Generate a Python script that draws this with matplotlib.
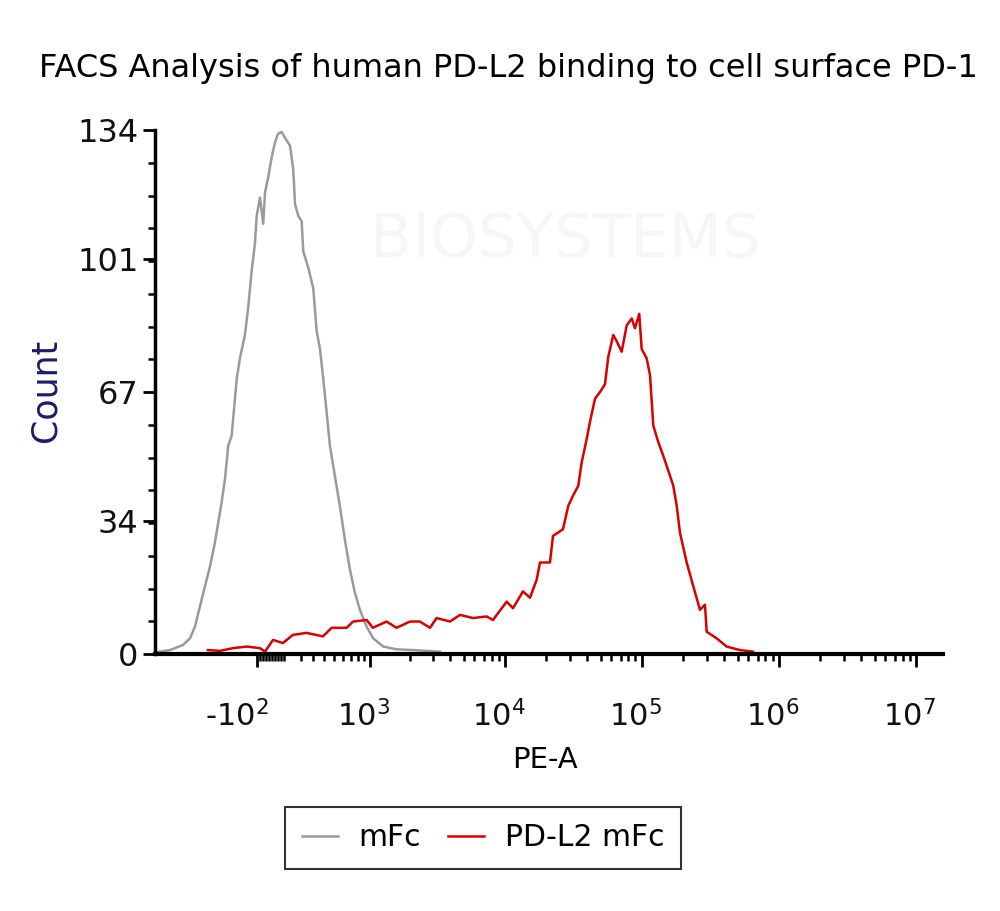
import numpy as np
import matplotlib.pyplot as plt
import matplotlib.transforms as mtransforms
from matplotlib.ticker import NullFormatter

plt.rcParams['font.family'] = ['DejaVu Sans']
plt.rcParams['mathtext.default'] = 'regular'

# 直方图数据：PE-A 荧光值及对应细胞计数
mfc_pe = [-1353, -1074, -848, -743, -675, -611, -552, -496, -445, -412, -380,
          -350, -321, -292, -251, -226, -188, -163, -139, -116, -104, -81, -59,
          -47, -25, -2, 20, 40, 65, 88, 123, 146, 159, 183, 208, 220, 260, 300,
          330, 359, 389, 421, 454, 506, 562, 622, 687, 756, 831, 940, 1060, 1268,
          1596, 2120, 3356]
mfc_count = [0.5, 1.0, 2.3, 4, 7, 12.2, 17.3, 22.4, 28.5, 33.7, 38.8,
             44.7, 53.3, 55.9, 70.4, 75.6, 81.6, 89, 98, 105, 112, 116.7, 110,
             118, 122, 127, 130.8, 133, 133.5, 132, 130, 124, 115, 112, 110.7, 103, 98.7, 93.6,
             82.5, 78, 70.4, 62, 53.3, 45.6, 37.9, 29.3, 21.6, 15.7, 11.3, 7, 4, 1.9,
             1.2, 1, 0.6]

pdl2_pe = [-518, -396, -281, -175, -81, -47, 7, 74, 144, 247, 386, 472, 644, 730,
           942, 1052, 1344, 1596, 2016, 2388, 2832, 3172, 3976, 4704, 5856, 7376,
           8200, 10330, 11480, 13580, 15280, 17100, 18080, 21380, 22500, 26600,
           29100, 31500, 34400, 36440, 39640, 41900, 45580, 49600, 53900, 56960,
           61960, 65600, 71340, 77600, 84400, 89240, 95900, 99840, 108600, 114900,
           121400, 132000, 143500, 160700, 169900, 179900, 190100, 212800, 237800,
           266000, 289200, 297800, 352200, 416600, 521400, 648600]
pdl2_count = [1, 0.8, 1.5, 1.9, 1.5, 0.6, 3.6, 2.8, 4.9, 5.4, 4.5, 6.7, 6.7, 8.3,
              8.7, 6.7, 8.3, 6.7, 8.3, 8.3, 6.7, 9.2, 8.3, 10, 9.2, 9.6,
              8.7, 13.4, 11.7, 16, 14.4, 19, 23.4, 23.4, 30.2, 31.9,
              37.9, 40.5, 43, 49, 55, 59.4, 65.3, 67, 69, 76,
              81.6, 80, 77.3, 84, 85.8, 83.3, 87, 78, 75.6, 71.3,
              58.4, 54.2, 50.7, 45.6, 43, 37.9, 31, 23.4, 17.3,
              11.3, 12.6, 5.7, 4, 1.9, 1, 0.6]

x_ticks = [-100, 1e3, 1e4, 1e5, 1e6, 1e7]
x_ticklabels = ['-$10^{2}$', '$10^{3}$', '$10^{4}$', '$10^{5}$', '$10^{6}$', '$10^{7}$']
y_ticks = [0, 34, 67, 101, 134]

title = 'FACS Analysis of human PD-L2 binding to cell surface PD-1'

fig = plt.figure(figsize=(10, 9.11), dpi=100)
ax = fig.add_axes([0.155, 1 - 654 / 911, 0.788, 524 / 911])

# 水印
fig.text(0.565, 1 - 240 / 911, 'BIOSYSTEMS', fontsize=44, color='#f6f6f6',
         ha='center', va='center', zorder=0)

ax.plot(mfc_pe, mfc_count, color='#9a9a9a', lw=1.8, label='mFc')
ax.plot(pdl2_pe, pdl2_count, color='#d80000', lw=1.8, label='PD-L2 mFc')

# 双指数（asinh）横轴
ax.set_xscale('asinh', linear_width=400)
ax.set_xlim(-1400, 1.58e7)
ax.set_ylim(0, 134)
ax.patch.set_alpha(0)

minor_x = [-80, -60, -40, -20, 0, 20, 40, 60, 80] + \
          [m * 10 ** d for d in range(2, 7) for m in range(2, 10)]
ax.set_xticks(x_ticks, labels=x_ticklabels)
ax.set_xticks(minor_x, minor=True)
ax.xaxis.set_minor_formatter(NullFormatter())
ax.set_yticks(y_ticks)
ax.set_yticks(np.linspace(0, 134, 17), minor=True)

ax.spines['top'].set_visible(False)
ax.spines['right'].set_visible(False)
ax.spines['left'].set_linewidth(2.5)
ax.spines['bottom'].set_linewidth(3)
ax.tick_params(axis='both', which='major', length=9, width=2, direction='out',
               labelcolor='#111111')
ax.tick_params(axis='both', which='minor', length=5, width=1.8, direction='out')
ax.tick_params(axis='x', which='major', pad=24, labelsize=22)
ax.tick_params(axis='y', which='major', pad=3, labelsize=23)

# x 轴标签整体稍向左移，-10^2 再多移一些
for i, lab in enumerate(ax.get_xticklabels()):
    dx = -20 if i == 0 else -6
    shift = mtransforms.ScaledTranslation(dx / 100, 0, fig.dpi_scale_trans)
    lab.set_transform(lab.get_transform() + shift)

fig.text(0.508, 1 - 68 / 911, title, fontsize=23, ha='center', va='center')
fig.text(0.545, 1 - 760 / 911, 'PE-A', fontsize=21, ha='center', va='center')
fig.text(0.046, 1 - 390 / 911, 'Count', fontsize=25, rotation=90, color='#1c1c6b',
         ha='center', va='center')

leg = fig.legend(loc='center', bbox_to_anchor=(0.483, 1 - 838 / 911), ncol=2,
                 fontsize=21.5, frameon=True, fancybox=False, edgecolor='black',
                 handlelength=1.2, handletextpad=0.7, columnspacing=0.9,
                 borderpad=0.55)
leg.get_frame().set_linewidth(1.5)

plt.savefig('out.png', dpi=100)
